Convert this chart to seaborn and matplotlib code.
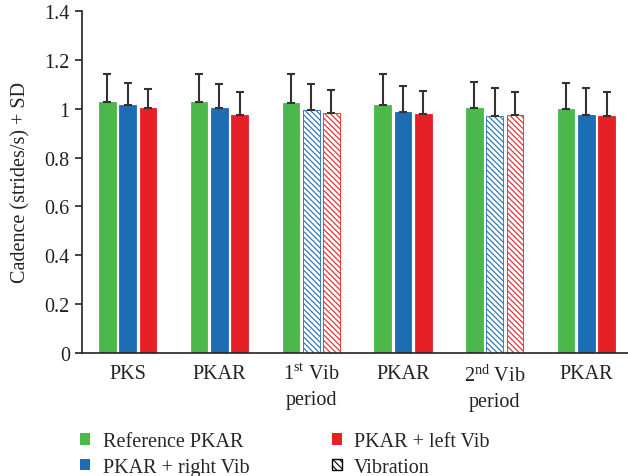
import matplotlib
matplotlib.use("Agg")
import matplotlib.pyplot as plt
import matplotlib.patches as mpatches
import numpy as np
import pandas as pd
import seaborn as sns

# data
periods = ["PKS", "PKAR", "1$^{\\mathrm{st}}$ Vib\nperiod", "PKAR",
           "2$^{\\mathrm{nd}}$ Vib\nperiod", "PKAR"]
conditions = ["Reference PKAR", "PKAR + right Vib", "PKAR + left Vib"]
ref_mean = [1.027, 1.027, 1.023, 1.014, 1.003, 0.999]
right_mean = [1.014, 1.001, 0.993, 0.988, 0.970, 0.973]
left_mean = [1.003, 0.974, 0.982, 0.978, 0.976, 0.970]
ref_sd = [0.116, 0.113, 0.120, 0.129, 0.107, 0.107]
right_sd = [0.093, 0.099, 0.107, 0.106, 0.116, 0.113]
left_sd = [0.079, 0.093, 0.093, 0.093, 0.093, 0.097]
vib_periods = [2, 4]

colors = ["#4cb84b", "#1c6db4", "#e52027"]

sns.set_style("ticks")
plt.rcParams["font.family"] = ["Liberation Serif", "DejaVu Serif"]
plt.rcParams["mathtext.fontset"] = "custom"
plt.rcParams["mathtext.rm"] = "Liberation Serif"
plt.rcParams["hatch.linewidth"] = 0.8

df = pd.DataFrame({
    "period": np.tile(np.arange(len(periods)), 3),
    "condition": np.repeat(conditions, len(periods)),
    "cadence": ref_mean + right_mean + left_mean,
    "sd": ref_sd + right_sd + left_sd,
})

fig = plt.figure(figsize=(6.28, 4.77), dpi=100)
ax = fig.add_axes([0.130, 0.258, 0.870, 0.717])

sns.barplot(data=df, x="period", y="cadence", hue="condition",
            hue_order=conditions, palette=colors, saturation=1,
            errorbar=None, width=0.665, gap=0.18, linewidth=0.6,
            ax=ax, legend=False)

# upper-only error bars, hatched bars during vibration
for i, cond in enumerate(conditions):
    cont = ax.containers[i]
    sub = df[df["condition"] == cond]
    xs = [p.get_x() + p.get_width() / 2 for p in cont.patches]
    ax.errorbar(xs, sub["cadence"], yerr=[np.zeros(len(sub)), sub["sd"]],
                fmt="none", ecolor="#333333", elinewidth=1.5, capsize=3,
                capthick=1.5, zorder=1)
    for j, p in enumerate(cont.patches):
        p.set_edgecolor(colors[i])
        if i > 0 and j in vib_periods:
            p.set_facecolor("white")
            p.set_hatch("\\\\\\\\\\\\")

ax.set_xlim(-0.503, 5.455)
ax.set_ylim(0, 1.4)
ax.set_yticks(np.arange(0, 1.41, 0.2))
ax.set_yticklabels(["0", "0.2", "0.4", "0.6", "0.8", "1", "1.2", "1.4"])
ax.set_xticks(range(len(periods)))
ax.set_xticklabels(periods, linespacing=1.4)
ax.tick_params(axis="x", length=0, pad=8, labelsize=14.5, colors="#222222")
ax.tick_params(axis="y", length=5, width=1.2, labelsize=14.5, colors="#222222")
ax.set_xlabel("")
ax.set_ylabel("Cadence (strides/s) + SD", fontsize=14.5, color="#222222",
              labelpad=10)
for s in ["left", "bottom"]:
    ax.spines[s].set_linewidth(1.2)
    ax.spines[s].set_color("#222222")
sns.despine(ax=ax)

handles = [mpatches.Patch(facecolor=colors[0], edgecolor="none"),
           mpatches.Patch(facecolor=colors[1], edgecolor="none"),
           mpatches.Patch(facecolor=colors[2], edgecolor="none"),
           mpatches.Patch(facecolor="white", edgecolor="black",
                          hatch="\\\\\\\\\\")]
labels = conditions + ["Vibration"]
fig.legend(handles, labels, ncol=2, loc="upper left",
           bbox_to_anchor=(0.128, 0.092), frameon=False,
           fontsize=14.5, handlelength=0.5, handleheight=0.5,
           handletextpad=0.6, columnspacing=4.1, labelspacing=0.33,
           borderpad=0, borderaxespad=0)

fig.savefig("out.png", dpi=100)
